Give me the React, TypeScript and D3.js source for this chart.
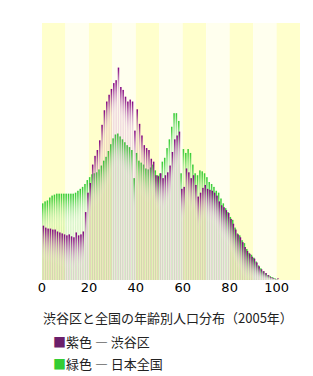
import * as d3 from "d3";

// 年齢 0〜100(100歳以上)
const ages = d3.range(0, 101);

// 渋谷区 (%), age 0..100
const shibuya = [
  0.56, 0.54, 0.53, 0.53, 0.52, 0.52, 0.5, 0.49, 0.48, 0.47,
  0.46, 0.47, 0.45, 0.44, 0.49, 0.46, 0.47, 0.5, 0.7, 0.9,
  1.0, 1.19, 1.28, 1.34, 1.44, 1.6, 1.75, 1.84, 1.91, 1.97,
  2.03, 2.06, 2.19, 1.99, 1.96, 1.89, 1.84, 1.86, 1.84, 1.54,
  1.76, 1.61, 1.49, 1.39, 1.36, 1.34, 1.25, 1.22, 1.08, 1.07,
  1.1, 1.05, 1.08, 1.11, 1.18, 1.32, 1.45, 1.49, 1.53, 0.94,
  0.96, 1.15, 1.11, 1.05, 1.08, 0.98, 0.86, 0.9, 0.95, 0.98,
  0.94, 0.93, 0.92, 0.9, 0.87, 0.81, 0.77, 0.75, 0.72, 0.69,
  0.63, 0.58, 0.52, 0.47, 0.44, 0.39, 0.34, 0.3, 0.27, 0.24,
  0.22, 0.18, 0.14, 0.11, 0.09, 0.07, 0.05, 0.03, 0.02, 0.01,
  0.02,
];

// 日本全国 (%), age 0..100
const japan = [
  0.79, 0.81, 0.82, 0.85, 0.87, 0.88, 0.89, 0.89, 0.89, 0.89,
  0.89, 0.89, 0.89, 0.89, 0.9, 0.92, 0.94, 0.96, 0.99, 1.03,
  1.06, 1.09, 1.1, 1.11, 1.14, 1.18, 1.23, 1.27, 1.33, 1.4,
  1.46, 1.5, 1.51, 1.48, 1.45, 1.42, 1.39, 1.37, 1.34, 1.05,
  1.31, 1.23, 1.21, 1.19, 1.15, 1.14, 1.16, 1.19, 1.13, 1.08,
  1.1, 1.22, 1.26, 1.36, 1.45, 1.58, 1.72, 1.72, 1.64, 1.1,
  1.35, 1.31, 1.35, 1.31, 1.19, 1.1, 1.08, 1.13, 1.12, 1.1,
  1.06, 1.01, 0.99, 0.96, 0.92, 0.9, 0.84, 0.79, 0.74, 0.7,
  0.65, 0.62, 0.54, 0.48, 0.46, 0.41, 0.38, 0.32, 0.28, 0.26,
  0.23, 0.19, 0.15, 0.12, 0.09, 0.07, 0.05, 0.04, 0.03, 0.02,
  0.01,
];

const tickValues = [0, 20, 40, 60, 80, 100];
const decades = d3.range(0, 110, 10);

const title = "渋谷区と全国の年齢別人口分布（2005年）";
const legendLabels = ["紫色 ― 渋谷区", "緑色 ― 日本全国"];

export default function App() {
  const width = 313;
  const height = 376;
  const x = d3.scaleLinear([0, 110], [42, 300]);
  const y = d3.scaleLinear([0, 2.65], [280, 23]);
  const unit = x(1) - x(0);
  const barW = unit * 0.62;
  const capMax = 34;

  const bars = (data: number[], color: string, cap: string, opacity: number, dx: number) =>
    ages.map((a, i) => {
      const top = y(data[i]);
      const h = y(0) - top;
      return (
        <g key={a}>
          <rect x={x(a) + dx} y={top} width={barW} height={h} fill={color} fillOpacity={opacity} />
          <rect x={x(a) + dx} y={top} width={barW} height={Math.min(capMax, h)} fill={`url(#${cap})`} />
        </g>
      );
    });

  return (
    <svg
      width={width}
      height={height}
      style={{ position: "absolute", left: 0, top: 0 }}
      fontFamily="'Noto Sans CJK JP', 'Noto Sans', sans-serif"
    >
      <defs>
        <linearGradient id="gcap" x1="0" y1="0" x2="0" y2="1">
          <stop offset="0" stopColor="#33cc33" />
          <stop offset="0.15" stopColor="#33cc33" stopOpacity="0.8" />
          <stop offset="1" stopColor="#ffffff" stopOpacity="0" />
        </linearGradient>
        <linearGradient id="pcap" x1="0" y1="0" x2="0" y2="1">
          <stop offset="0" stopColor="#800080" />
          <stop offset="0.15" stopColor="#800080" stopOpacity="0.75" />
          <stop offset="1" stopColor="#ffffff" stopOpacity="0" />
        </linearGradient>
      </defs>

      {decades.map((d, i) => (
        <rect
          key={d}
          x={x(d)}
          y={y.range()[1]}
          width={x(d + 10) - x(d)}
          height={y(0) - y.range()[1]}
          fill={i % 2 === 0 ? "#ffffcc" : "#ffffee"}
        />
      ))}

      <g>{bars(japan, "#33cc33", "gcap", 0.19, 0)}</g>
      <g>{bars(shibuya, "#aa3399", "pcap", 0.18, unit * 0.3)}</g>

      <g fontFamily="'DejaVu Sans', sans-serif" fontSize={13} fill="#000" textAnchor="middle">
        {tickValues.map((t) => (
          <text key={t} x={x(t)} y={292}>
            {t}
          </text>
        ))}
      </g>

      <text x={43} y={323} fontSize={13} fill="#222">
        {title}
      </text>

      {legendLabels.map((l, i) => (
        <text key={l} x={53} y={347 + i * 22} fontSize={13} fill="#222">
          <tspan fill={i === 0 ? "#6b1f6b" : "#33cc33"}>■</tspan>
          {l}
        </text>
      ))}
    </svg>
  );
}
